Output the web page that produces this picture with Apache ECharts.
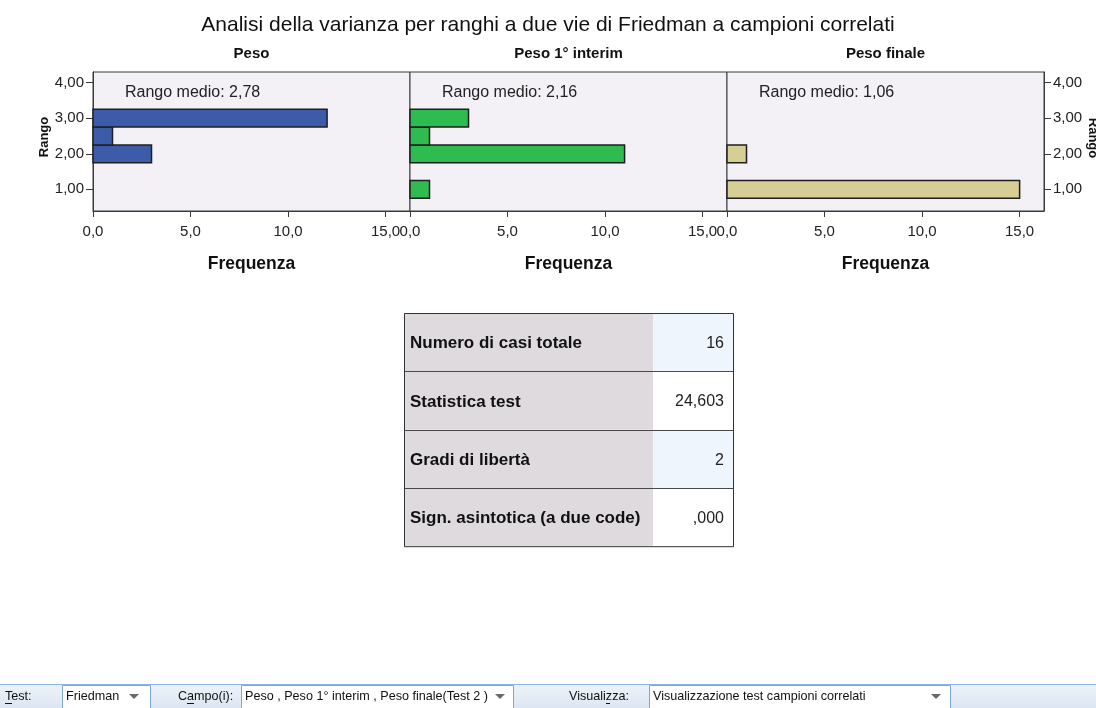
<!DOCTYPE html>
<html>
<head>
<meta charset="utf-8">
<script src="https://cdn.jsdelivr.net/npm/echarts@6/dist/echarts.min.js"></script>
<style>
  html, body { margin: 0; padding: 0; background: #ffffff; }
  #chart { width: 1096px; height: 708px; }
</style>
</head>
<body>
<div id="chart"></div>
<script>
// Friedman rank histograms: rank bins and frequency of each rank per variable
const rankBins = [1.0, 1.5, 2.0, 2.5, 3.0];
const binWidth = 0.5;
const pesoCounts = [0, 0, 3, 1, 12];
const interimCounts = [1, 0, 11, 1, 3];
const finaleCounts = [15, 0, 1, 0, 0];
const panelTitles = ['Peso', 'Peso 1° interim', 'Peso finale'];
const panelColors = ['#3C5BA9', '#2EBB4F', '#D6CE94'];
const xTicks = [0, 5, 10, 15];
const yTicks = [1, 2, 3, 4];

const mainTitle = 'Analisi della varianza per ranghi a due vie di Friedman a campioni correlati';

// Summary table
const tableLabels = ['Numero di casi totale', 'Statistica test', 'Gradi di libertà', 'Sign. asintotica (a due code)'];
const tableValues = ['16', '24,603', '2', ',000'];

// Bottom selector bar
const toolbarLabels = ['Test:', 'Campo(i):', 'Visualizza:'];
const toolbarChoices = ['Friedman', 'Peso , Peso 1° interim , Peso finale(Test 2 )', 'Visualizzazione test campioni correlati'];

const FONT = "'Liberation Sans', Arial, sans-serif";
const counts = [pesoCounts, interimCounts, finaleCounts];

// layout of the three panels
const gridLefts = [93, 410, 727];
const gridTop = 72, gridW = 317, gridH = 139;
const xMax = 16.25, yMin = 0.39, yMax = 4.3;

const comma = (v, d) => v.toFixed(d).replace('.', ',');

function meanRank(c) {
  let s = 0, n = 0;
  c.forEach((k, i) => { s += k * rankBins[i]; n += k; });
  return s / n;
}

const chart = echarts.init(document.getElementById('chart'));

const grids = gridLefts.map(l => ({
  left: l, top: gridTop, width: gridW, height: gridH,
  outerBoundsMode: 'none',
  show: true, backgroundColor: '#F3F1F5', borderColor: '#3a3a3a', borderWidth: 1
}));

const xAxes = gridLefts.map((l, i) => ({
  gridIndex: i, type: 'value', min: 0, max: xMax,
  axisLine: { show: true, onZero: false, lineStyle: { color: '#3a3a3a', width: 1 } },
  axisTick: { show: true, customValues: xTicks, length: 6, lineStyle: { color: '#3a3a3a' } },
  axisLabel: { customValues: xTicks, formatter: v => comma(v, 1), fontSize: 15, color: '#222', margin: 13, fontFamily: FONT },
  splitLine: { show: false },
  name: 'Frequenza', nameLocation: 'middle', nameGap: 44,
  nameTextStyle: { fontSize: 17.5, fontWeight: 'bold', color: '#111', fontFamily: FONT }
}));

function rankAxis(gridIndex, position, rotate, padding, gap) {
  return {
    gridIndex, position,
    type: 'value', min: yMin, max: yMax,
    axisLine: { show: true, onZero: false, lineStyle: { color: '#3a3a3a' } },
    axisTick: { show: true, inside: false, customValues: yTicks, length: 7, lineStyle: { color: '#3a3a3a' } },
    axisLabel: { customValues: yTicks, formatter: v => comma(v, 2), fontSize: 15, color: '#222', margin: 9, fontFamily: FONT },
    splitLine: { show: false },
    name: 'Rango', nameLocation: 'middle', nameGap: gap, nameRotate: rotate,
    nameTextStyle: { fontSize: 13, fontWeight: 'bold', color: '#111', fontFamily: FONT, padding }
  };
}

const yAxes = [
  rankAxis(0, 'left', 90, [0, 0, 0, 9], 41),
  { gridIndex: 1, type: 'value', min: yMin, max: yMax, show: false },
  rankAxis(2, 'right', -90, [0, 7, 0, 0], 39)
];

const series = counts.map((c, i) => ({
  type: 'custom',
  xAxisIndex: i, yAxisIndex: i,
  data: rankBins.map((r, k) => [c[k], r]).filter(d => d[0] > 0),
  encode: { x: 0, y: 1 },
  renderItem(params, api) {
    const cnt = api.value(0), r = api.value(1);
    const a = api.coord([0, r + binWidth / 2]);
    const b = api.coord([cnt, r - binWidth / 2]);
    return {
      type: 'rect',
      shape: { x: a[0], y: a[1], width: b[0] - a[0], height: b[1] - a[1] },
      style: { fill: panelColors[i], stroke: '#1f1f1f', lineWidth: 1.5 }
    };
  }
}));

// ---- texts and static elements ----
const graphics = [];

graphics.push({
  type: 'text', x: 548, y: 25,
  style: { text: mainTitle, align: 'center', verticalAlign: 'middle', font: `21px ${FONT}`, fill: '#111' }
});

gridLefts.forEach((l, i) => {
  graphics.push({
    type: 'text', x: l + gridW / 2, y: 54,
    style: { text: panelTitles[i], align: 'center', verticalAlign: 'middle', font: `bold 15px ${FONT}`, fill: '#111' }
  });
  graphics.push({
    type: 'text', x: l + 32, y: 92.5, z: 10,
    style: { text: 'Rango medio: ' + comma(meanRank(counts[i]), 2), align: 'left', verticalAlign: 'middle', font: `16px ${FONT}`, fill: '#222' }
  });
});

// summary table
const tX0 = 404, tXs = 653, tX1 = 733, tY0 = 313, rowH = 58.3;
tableLabels.forEach((lab, r) => {
  const y = tY0 + r * rowH;
  graphics.push({ type: 'rect', shape: { x: tX0, y, width: tXs - tX0, height: rowH }, style: { fill: '#DEDADE' } });
  graphics.push({ type: 'rect', shape: { x: tXs, y, width: tX1 - tXs, height: rowH }, style: { fill: r % 2 === 0 ? '#EEF5FD' : '#FFFFFF' } });
  graphics.push({
    type: 'text', x: tX0 + 6, y: y + rowH / 2 + 1.5,
    style: { text: lab, align: 'left', verticalAlign: 'middle', font: `bold 17px ${FONT}`, fill: '#111' }
  });
  graphics.push({
    type: 'text', x: tX1 - 9, y: y + rowH / 2 + 1.5,
    style: { text: tableValues[r], align: 'right', verticalAlign: 'middle', font: `16px ${FONT}`, fill: '#222' }
  });
  if (r > 0) {
    graphics.push({ type: 'line', shape: { x1: tX0, y1: Math.round(y) + 0.5, x2: tX1, y2: Math.round(y) + 0.5 }, style: { stroke: '#4a4a4a', lineWidth: 1 } });
  }
});
graphics.push({
  type: 'rect', shape: { x: tX0 + 0.5, y: tY0 + 0.5, width: tX1 - tX0, height: rowH * tableLabels.length },
  style: { fill: null, stroke: '#333', lineWidth: 1 }
});

// bottom selector bar
graphics.push({
  type: 'rect', shape: { x: 0, y: 684, width: 1096, height: 24 },
  style: { fill: new echarts.graphic.LinearGradient(0, 0, 0, 1, [{ offset: 0, color: '#EEF3FA' }, { offset: 1, color: '#DCE6F2' }]) }
});
graphics.push({ type: 'line', shape: { x1: 0, y1: 684.5, x2: 1096, y2: 684.5 }, style: { stroke: '#8DB4E2', lineWidth: 1 } });

const labelX = [5, 178, 569];
const boxes = [[62, 150], [241, 513], [649, 950]];
const arrowX = [134, 500, 936];
toolbarLabels.forEach((t, i) => {
  graphics.push({
    type: 'text', x: labelX[i], y: 697,
    style: { text: t, align: 'left', verticalAlign: 'middle', font: `12.6px ${FONT}`, fill: '#111' }
  });
  graphics.push({
    type: 'rect', shape: { x: boxes[i][0] + 0.5, y: 685.5, width: boxes[i][1] - boxes[i][0], height: 24 },
    style: { fill: '#FFFFFF', stroke: '#7FA6D6', lineWidth: 1 }
  });
  graphics.push({
    type: 'text', x: boxes[i][0] + 4, y: 697,
    style: { text: toolbarChoices[i], align: 'left', verticalAlign: 'middle', font: `12.6px ${FONT}`, fill: '#111' }
  });
  graphics.push({
    type: 'polygon', shape: { points: [[arrowX[i] - 5, 694], [arrowX[i] + 5, 694], [arrowX[i], 699]] },
    style: { fill: '#6a6a6a' }
  });
});
// keyboard-access underlines (T, a, l)
[[5, 12], [187, 194], [606, 610]].forEach(u => {
  graphics.push({ type: 'line', shape: { x1: u[0], y1: 703.5, x2: u[1], y2: 703.5 }, style: { stroke: '#111', lineWidth: 1 } });
});

chart.setOption({
  animation: false,
  backgroundColor: '#ffffff',
  grid: grids,
  xAxis: xAxes,
  yAxis: yAxes,
  series: series,
  graphic: graphics
});
</script>
</body>
</html>
